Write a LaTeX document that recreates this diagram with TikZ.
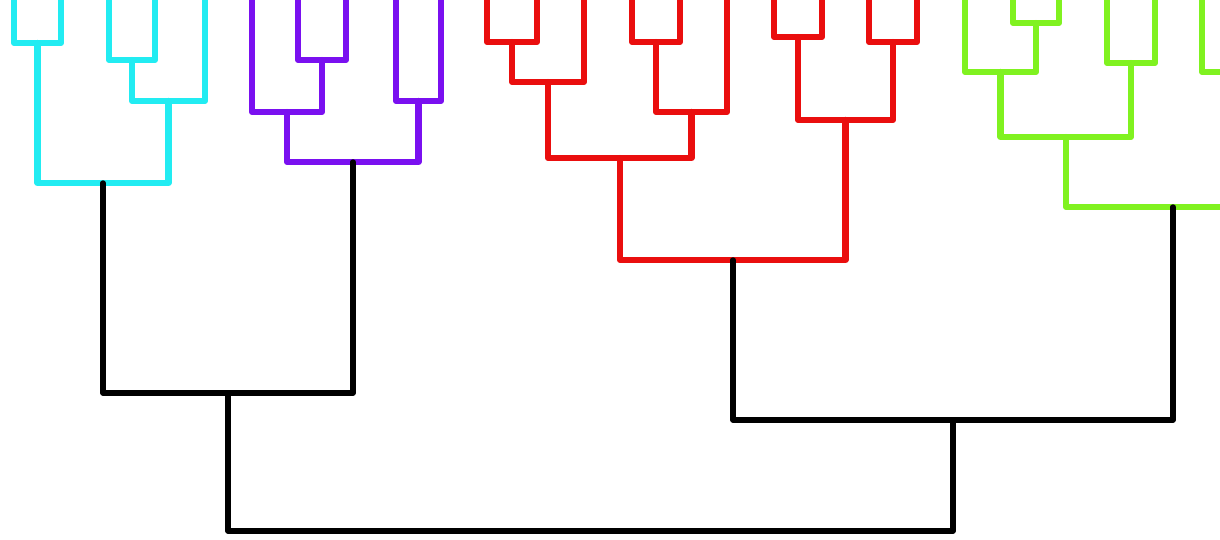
\documentclass[tikz,border=0pt]{standalone}
\definecolor{cyn}{RGB}{34,236,242}
\definecolor{prp}{RGB}{122,16,240}
\definecolor{rd}{RGB}{234,14,14}
\definecolor{grn}{RGB}{128,242,32}
\tikzset{
  lk/.style={line width=6.2pt, line join=round, line cap=round},
  cyl/.style={lk, draw=cyn},
  prl/.style={lk, draw=prp},
  rdl/.style={lk, draw=rd},
  grl/.style={lk, draw=grn},
  bkl/.style={lk, draw=black, line width=5.4pt}
}
\begin{document}
\begin{tikzpicture}[x=1pt,y=-1pt]
\useasboundingbox (0,0) rectangle (1220,540);
\fill[white] (0,0) rectangle (1220,540);
\clip (0,0) rectangle (1220,540);
% leaves (top ends beyond the edge)
\foreach \n/\x in {a1/14,a2/61,a3/109,a4/155,a5/205,
                   b1/252,b2/298,b3/346,b4/396,b5/441,
                   r1/487,r2/537,r3/584,r4/632,r5/680,r6/727,r7/774,r8/822,r9/869,r10/917,
                   g1/965,g2/1013,g3/1059,g4/1107,g5/1155,g6/1202,g7/1358}
  \coordinate (\n) at (\x,-10);
% merge points
\coordinate (ca) at (37.5,43);
\coordinate (cb) at (132,60);
\coordinate (cc) at (168.5,101);
\coordinate (cd) at (103,183);
\coordinate (pa) at (322,60);
\coordinate (pb) at (287,112);
\coordinate (pc) at (418.5,101);
\coordinate (pd) at (353,162);
\coordinate (ka) at (228,393);
\coordinate (ra) at (512,42);
\coordinate (rb) at (548,82);
\coordinate (rc) at (656,42);
\coordinate (rd) at (691.5,112);
\coordinate (re) at (620,158);
\coordinate (rf) at (798,37);
\coordinate (rg) at (893,42);
\coordinate (rh) at (845.5,120);
\coordinate (ri) at (733,260);
\coordinate (ga) at (1036,23);
\coordinate (gb) at (1000.5,72);
\coordinate (gc) at (1131,63);
\coordinate (gd) at (1066,137);
\coordinate (ge) at (1280,72);
\coordinate (gf) at (1173,207);
\coordinate (kb) at (953,420);
\coordinate (kc) at (590,531);
% cyan cluster
\draw[cyl] (a1) |- (ca) -| (a2);
\draw[cyl] (a3) |- (cb) -| (a4);
\draw[cyl] (cb) |- (cc) -| (a5);
\draw[cyl] (ca) |- (cd) -| (cc);
% purple cluster
\draw[prl] (b2) |- (pa) -| (b3);
\draw[prl] (b1) |- (pb) -| (pa);
\draw[prl] (b4) |- (pc) -| (b5);
\draw[prl] (pb) |- (pd) -| (pc);
% red cluster
\draw[rdl] (r1) |- (ra) -| (r2);
\draw[rdl] (ra) |- (rb) -| (r3);
\draw[rdl] (r4) |- (rc) -| (r5);
\draw[rdl] (rc) |- (rd) -| (r6);
\draw[rdl] (rb) |- (re) -| (rd);
\draw[rdl] (r7) |- (rf) -| (r8);
\draw[rdl] (r9) |- (rg) -| (r10);
\draw[rdl] (rf) |- (rh) -| (rg);
\draw[rdl] (re) |- (ri) -| (rh);
% green cluster
\draw[grl] (g2) |- (ga) -| (g3);
\draw[grl] (g1) |- (gb) -| (ga);
\draw[grl] (g4) |- (gc) -| (g5);
\draw[grl] (gb) |- (gd) -| (gc);
\draw[grl] (g6) |- (ge) -| (g7);
\draw[grl] (gd) |- (gf) -| (ge);
% black upper links
\draw[bkl] (cd) |- (ka) -| (pd);
\draw[bkl] (ri) |- (kb) -| (gf);
\draw[bkl] (ka) |- (kc) -| (kb);
\end{tikzpicture}
\end{document}
